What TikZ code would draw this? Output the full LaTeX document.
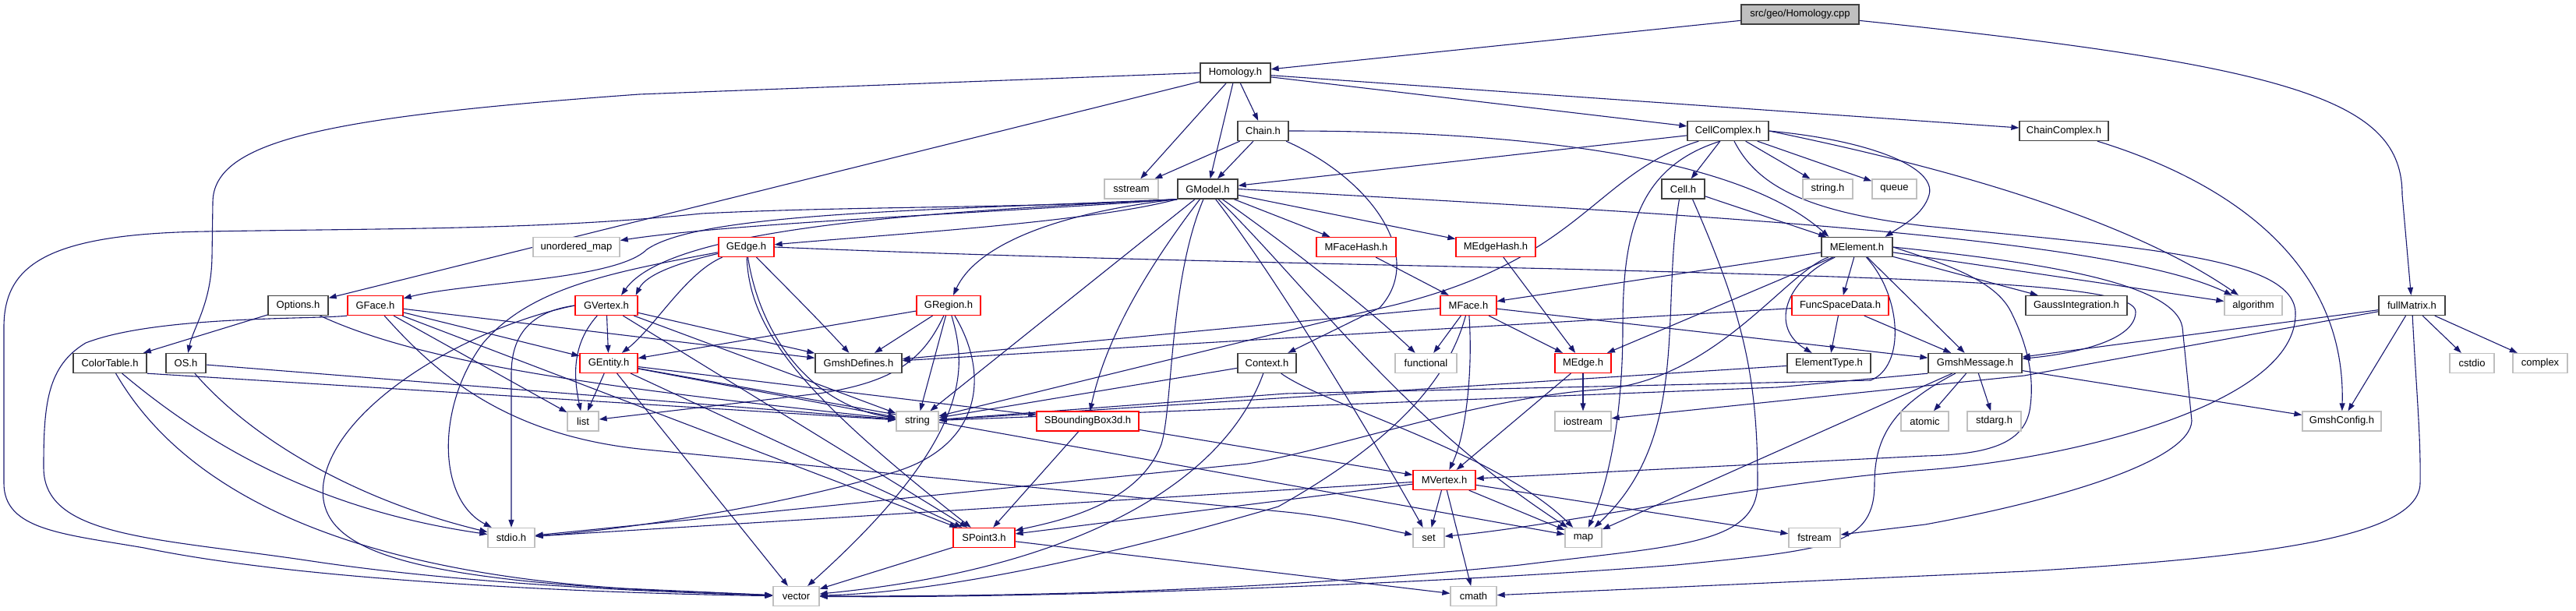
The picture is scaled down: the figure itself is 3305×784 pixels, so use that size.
\documentclass[tikz,border=0pt]{standalone}
\usepackage{fontspec}
\setmainfont{Liberation Sans}
\usetikzlibrary{arrows.meta,calc}
\definecolor{edgec}{HTML}{191970}
\definecolor{bordk}{HTML}{404040}
\definecolor{bordg}{HTML}{BFBFBF}
\definecolor{rootf}{HTML}{BFBFBF}
\pgfdeclarelayer{bg}
\pgfsetlayers{bg,main}
\begin{document}
\begin{tikzpicture}[x=1pt,y=-1pt,
 box/.style={draw, line width=1.3pt, inner sep=0pt, minimum height=25pt, fill=white, font=\fontsize{13pt}{15pt}\selectfont},
 bk/.style={box, draw=bordk},
 gy/.style={box, draw=bordg},
 rd/.style={box, draw=red},
 rootbox/.style={box, draw=bordk, fill=rootf},
 edg/.style={draw=edgec, line width=1.1pt, -{Triangle[length=10pt,width=7pt]}},
]
\useasboundingbox (0,0) rectangle (3305,784);
% ---------- nodes ----------
\node[rootbox,minimum width=151pt] (cpp) at (2309.5,18.5) {src/geo/Homology.cpp};
\node[bk,minimum width=90pt] (hh) at (1585,93.5) {Homology.h};
\node[bk,minimum width=65pt] (chain) at (1620.5,168) {Chain.h};
\node[bk,minimum width=104pt] (cellc) at (2217,168) {CellComplex.h};
\node[bk,minimum width=114pt] (chaincx) at (2648,168) {ChainComplex.h};
\node[gy,minimum width=69pt] (sstream) at (1451.5,242.5) {sstream};
\node[bk,minimum width=77pt] (gmodel) at (1549.5,242.5) {GModel.h};
\node[bk,minimum width=55pt] (cell) at (2159.5,242.5) {Cell.h};
\node[gy,minimum width=64pt] (stringh) at (2345,242.5) {string.h};
\node[gy,minimum width=57pt] (queue) at (2430.5,242.5) {queue};
\node[gy,minimum width=111pt] (umap) at (739.5,317) {unordered\_map};
\node[rd,minimum width=71pt] (gedge) at (957.5,317) {GEdge.h};
\node[rd,minimum width=102pt] (mfacehash) at (1740,317) {MFaceHash.h};
\node[rd,minimum width=102pt] (medgehash) at (1919,317) {MEdgeHash.h};
\node[bk,minimum width=91pt] (melement) at (2382.5,317) {MElement.h};
\node[bk,minimum width=77pt] (options) at (382.5,392) {Options.h};
\node[rd,minimum width=71pt] (gface) at (481.5,392) {GFace.h};
\node[rd,minimum width=80pt] (gvertex) at (778,392) {GVertex.h};
\node[rd,minimum width=82pt] (gregion) at (1217,392) {GRegion.h};
\node[rd,minimum width=72pt] (mface) at (1884,392) {MFace.h};
\node[rd,minimum width=124pt] (fsd) at (2361,392) {FuncSpaceData.h};
\node[bk,minimum width=130pt] (gauss) at (2664,392) {GaussIntegration.h};
\node[gy,minimum width=74pt] (algorithm) at (2891,392) {algorithm};
\node[bk,minimum width=85pt] (fullmatrix) at (3094.5,392) {fullMatrix.h};
\node[bk,minimum width=94pt] (colortable) at (141,466) {ColorTable.h};
\node[bk,minimum width=51pt] (os) at (238.5,466) {OS.h};
\node[rd,minimum width=74pt] (gentity) at (781,466) {GEntity.h};
\node[bk,minimum width=111pt] (gmshdef) at (1101.5,466) {GmshDefines.h};
\node[bk,minimum width=75pt] (context) at (1625.5,466) {Context.h};
\node[gy,minimum width=79pt] (functional) at (1829.5,466) {functional};
\node[rd,minimum width=72pt] (medge) at (2031,466) {MEdge.h};
\node[bk,minimum width=107pt] (eltype) at (2346.5,466) {ElementType.h};
\node[bk,minimum width=120pt] (gmshmsg) at (2534,466) {GmshMessage.h};
\node[gy,minimum width=57pt] (cstdio) at (3171.5,466) {cstdio};
\node[gy,minimum width=70pt] (complex) at (3259,466) {complex};
\node[gy,minimum width=40pt] (list) at (748,540.5) {list};
\node[gy,minimum width=54pt] (string) at (1177,540.5) {string};
\node[rd,minimum width=131pt] (sbb) at (1395.5,540.5) {SBoundingBox3d.h};
\node[gy,minimum width=72pt] (iostream) at (2031,540.5) {iostream};
\node[gy,minimum width=61pt] (atomic) at (2469.5,540.5) {atomic};
\node[gy,minimum width=69pt] (stdarg) at (2558.5,540.5) {stdarg.h};
\node[gy,minimum width=101pt] (gmshconfig) at (3004.5,540.5) {GmshConfig.h};
\node[rd,minimum width=80pt] (mvertex) at (1853,616) {MVertex.h};
\node[gy,minimum width=60pt] (stdio) at (656,690) {stdio.h};
\node[rd,minimum width=79pt] (spoint) at (1262.5,690) {SPoint3.h};
\node[gy,minimum width=40pt] (set) at (1833,690) {set};
\node[gy,minimum width=47pt] (map) at (2031.5,690) {map};
\node[gy,minimum width=66pt] (fstream) at (2328,690) {fstream};
\node[gy,minimum width=59pt] (vector) at (1021.5,765) {vector};
\node[gy,minimum width=59pt] (cmath) at (1890.5,765) {cmath};
% ---------- edges ----------
\begin{pgfonlayer}{bg}
% Homology.cpp
\draw[edg] (cpp) -- (hh);
\draw[edg] (cpp) .. controls (2950,85) and (3082,130) .. (3082,250) -- (fullmatrix);
% Homology.h
\draw[edg] (hh) -- (chain);
\draw[edg] (hh) -- (cellc);
\draw[edg] (hh) -- (chaincx);
\draw[edg] (hh) -- (gmodel);
\draw[edg] (hh) -- (sstream);
\draw[edg] (hh) -- (options);
\draw[edg] (hh.west) -- (820,121) .. controls (420,150) and (273,180) .. (273,260) -- (272,330) .. controls (271,390) and (248,420) .. (os);
% Chain.h
\draw[edg] (chain) -- (sstream);
\draw[edg] (chain) -- (gmodel);
\draw[edg] (chain.east) .. controls (1950,168) and (2230,200) .. ($(melement.north west)+(10,0)$);
\draw[edg] (chain) .. controls (1760,230) and (1830,330) .. (1770,395) -- (context);
% CellComplex.h
\draw[edg] (cellc) -- (gmodel);
\draw[edg] (cellc) -- (cell);
\draw[edg] (cellc) -- (stringh);
\draw[edg] (cellc) -- (queue);
\draw[edg] (cellc.east) .. controls (2400,180) and (2485,215) .. (2475,250) .. controls (2468,275) and (2440,290) .. ($(melement.north east)+(-10,0)$);
\draw[edg] (cellc.east) .. controls (2400,195) and (2700,260) .. (algorithm);
\draw[edg] ($(cellc.south west)+(15,0)$) .. controls (2040,225) and (2030,340) .. (1760,398) -- (string);
\draw[edg] ($(cellc.south)+(-10,0)$) .. controls (2100,215) and (2082,300) .. (2082,420) .. controls (2082,560) and (2055,640) .. (map);
\draw[edg] ($(cellc.south)+(8,0)$) .. controls (2255,240) and (2320,272) .. (2470,290) .. controls (2750,318) and (2940,330) .. (2945,400) .. controls (2950,520) and (2650,590) .. (2470,603) .. controls (2250,620) and (2000,675) .. (set);
% Cell.h
\draw[edg] (cell) -- (melement);
\draw[edg] ($(cell.south)+(-5,0)$) .. controls (2130,400) and (2170,560) .. (map);
\draw[edg] ($(cell.south)+(12,0)$) .. controls (2235,400) and (2255,480) .. (2255,620) .. controls (2255,700) and (2150,700) .. (1950,725) .. controls (1600,760) and (1300,765) .. (vector);
% ChainComplex.h
\draw[edg] (chaincx) .. controls (2850,230) and (3010,330) .. (gmshconfig);
% GModel.h
\draw[edg] (gmodel.south west) .. controls (1300,272) and (950,285) .. (umap);
\draw[edg] (gmodel.south west) .. controls (1400,285) and (1150,300) .. (gedge);
\draw[edg] (gmodel.south west) .. controls (1200,270) and (900,272) .. (830,320) .. controls (790,360) and (600,362) .. (gface);
\draw[edg] (gmodel.south west) .. controls (1200,272) and (860,290) .. ($(gvertex.north)+(19,0)$);
\draw[edg] (gmodel.south west) .. controls (1340,275) and (1250,320) .. (gregion);
\draw[edg] (gmodel.south west) .. controls (1300,268) and (1100,264) .. (900,274) .. controls (700,295) and (500,293) .. (265,297) .. controls (60,300) and (5,340) .. (5,420) -- (5,620) .. controls (5,680) and (80,685) .. (185,703) .. controls (400,748) and (800,762) .. (vector);
\draw[edg] (gmodel) -- (mfacehash);
\draw[edg] (gmodel) -- (medgehash);
\draw[edg] (gmodel) .. controls (1475,340) and (1420,430) .. (sbb);
\draw[edg] (gmodel) .. controls (1500,360) and (1505,520) .. (1490,570) .. controls (1460,650) and (1350,670) .. (spoint);
\draw[edg] (gmodel) -- (string);
\draw[edg] (gmodel) .. controls (1640,360) and (1760,560) .. (set);
\draw[edg] (gmodel) .. controls (1680,370) and (1800,540) .. (map);
\draw[edg] (gmodel) .. controls (1660,320) and (1760,400) .. (functional);
\draw[edg] (gmodel.east) .. controls (2100,272) and (2700,300) .. (algorithm);
% GEdge.h
\draw[edg] (gedge) .. controls (880,335) and (830,350) .. ($(gvertex.north east)+(-3,0)$);
\draw[edg] (gedge) .. controls (880,350) and (840,420) .. (gentity);
\draw[edg] (gedge) .. controls (1010,370) and (1050,410) .. (gmshdef);
\draw[edg] (gedge) .. controls (780,350) and (680,370) .. (620,440) .. controls (560,520) and (560,640) .. (stdio);
\draw[edg] (gedge) .. controls (962,420) and (1020,500) .. (spoint);
\draw[edg] (gedge) .. controls (975,430) and (1040,520) .. (string);
\draw[edg] (gedge.east) .. controls (1300,330) and (1600,336) .. (2000,345) .. controls (2500,358) and (2740,365) .. (2740,400) .. controls (2740,440) and (2650,455) .. (gmshmsg);
% GVertex.h
\draw[edg] (gvertex) -- (gentity);
\draw[edg] (gvertex) .. controls (735,440) and (735,480) .. (list);
\draw[edg] (gvertex) -- (gmshdef);
\draw[edg] (gvertex) -- (string);
\draw[edg] (gvertex) -- (spoint);
\draw[edg] (gvertex.west) .. controls (680,400) and (656,430) .. (656,480) -- (stdio);
\draw[edg] (gvertex.west) .. controls (600,420) and (430,520) .. (415,620) .. controls (405,700) and (500,740) .. (830,757) -- (vector);
% GFace.h
\draw[edg] (gface) -- (gentity);
\draw[edg] (gface) -- (list);
\draw[edg] (gface) -- (gmshdef);
\draw[edg] (gface) -- (spoint);
\draw[edg] (gface.south west) .. controls (400,410) and (200,405) .. (110,440) .. controls (60,470) and (56,520) .. (56,600) .. controls (56,690) and (200,690) .. (400,720) .. controls (600,750) and (850,760) .. (vector);
\draw[edg] (gface) .. controls (560,480) and (650,560) .. (830,577) -- (1650,657) .. controls (1720,664) and (1780,680) .. (set);
% GEntity.h
\draw[edg] (gentity) -- (list);
\draw[edg] (gentity) -- (string);
\draw[edg] (gentity) -- (sbb);
\draw[edg] (gentity) -- (spoint);
\draw[edg] (gentity) -- (vector);
\draw[edg] (gentity) -- (map);
% GRegion.h
\draw[edg] (gregion) -- (gentity);
\draw[edg] (gregion) -- (gmshdef);
\draw[edg] (gregion) -- (string);
\draw[edg] (gregion) .. controls (1240,470) and (1250,560) .. (vector);
\draw[edg] (gregion) .. controls (1270,480) and (1260,570) .. (1150,605) .. controls (1000,650) and (800,680) .. (stdio);
\draw[edg] (gregion) .. controls (1185,460) and (1150,490) .. (1050,505) -- (list);
% Options.h, ColorTable.h, OS.h
\draw[edg] (options) -- (colortable);
\draw[edg] (options) .. controls (550,470) and (800,500) .. (string);
\draw[edg] (colortable.south east) -- (string);
\draw[edg] (colortable) .. controls (300,600) and (450,660) .. (stdio);
\draw[edg] (colortable) .. controls (230,620) and (420,730) .. (800,755) -- (vector);
\draw[edg] (os) .. controls (320,560) and (450,640) .. (stdio);
\draw[edg] (os) -- (string);
% Context.h
\draw[edg] (context) -- (string);
\draw[edg] (context) .. controls (1570,620) and (1380,730) .. (vector);
\draw[edg] (context) .. controls (1700,520) and (1920,580) .. (map);
% SBoundingBox3d.h, SPoint3.h
\draw[edg] (sbb) -- (spoint);
\draw[edg] (sbb) -- (mvertex);
\draw[edg] (spoint) -- (vector);
\draw[edg] (spoint) -- (cmath);
% hashes
\draw[edg] (mfacehash) -- (mface);
\draw[edg] (medgehash) -- (medge);
% MElement.h
\draw[edg] (melement) -- (mface);
\draw[edg] (melement) -- (fsd);
\draw[edg] (melement) -- (gauss);
\draw[edg] (melement) -- (algorithm);
\draw[edg] (melement) -- (gmshmsg);
\draw[edg] (melement) .. controls (2290,360) and (2270,420) .. (eltype);
\draw[edg] (melement) -- (medge);
\draw[edg] (melement) .. controls (2440,380) and (2445,470) .. (2400,488) -- (1650,505) -- (string);
\draw[edg] (melement) .. controls (2290,350) and (2200,490) .. (2050,500) .. controls (1900,510) and (1700,580) .. (1600,595) -- (stdio);
\draw[edg] (melement.east) .. controls (2600,335) and (2790,360) .. (2800,420) -- (2812,540) .. controls (2810,590) and (2650,640) .. (2470,673) -- (fstream);
\draw[edg] (melement.east) .. controls (2500,340) and (2560,360) .. (2580,400) .. controls (2600,440) and (2610,480) .. (2605,520) .. controls (2600,570) and (2550,583) .. (2470,585) -- (mvertex);
% MVertex.h
\draw[edg] (mvertex) -- (set);
\draw[edg] (mvertex) -- (map);
\draw[edg] (mvertex) -- (cmath);
\draw[edg] (mvertex) -- (fstream);
\draw[edg] (mvertex) -- (spoint);
\draw[edg] (mvertex) -- (stdio);
% MEdge.h
\draw[edg] (medge) -- (mvertex);
\draw[edg] (medge) -- (iostream);
% MFace.h
\draw[edg] (mface) -- (functional);
\draw[edg] (mface) -- (medge);
\draw[edg] (mface) .. controls (1890,480) and (1880,560) .. (mvertex);
\draw[edg] (mface) -- (gmshmsg);
\draw[edg] (mface) -- (gmshdef);
\draw[edg] (mface) .. controls (1860,480) and (1800,560) .. (1640,650) .. controls (1400,720) and (1200,760) .. (vector);
% FuncSpaceData.h, ElementType.h
\draw[edg] (fsd) -- (eltype);
\draw[edg] (fsd) -- (gmshmsg);
\draw[edg] (fsd) -- (gmshdef);
\draw[edg] (eltype) -- (string);
% GmshMessage.h
\draw[edg] (gmshmsg) -- (atomic);
\draw[edg] (gmshmsg) -- (stdarg);
\draw[edg] (gmshmsg) -- (gmshconfig);
\draw[edg] (gmshmsg) -- (map);
\draw[edg] (gmshmsg.south west) -- (2280,497) -- (string);
\draw[edg] (gmshmsg) .. controls (2430,520) and (2405,560) .. (2405,620) .. controls (2405,700) and (2350,705) .. (2150,725) .. controls (1800,752) and (1300,768) .. (vector);
% fullMatrix.h
\draw[edg] (fullmatrix) -- (gmshmsg);
\draw[edg] (fullmatrix) -- (2597,482) -- (iostream);
\draw[edg] (fullmatrix) -- (cstdio);
\draw[edg] (fullmatrix) -- (complex);
\draw[edg] (fullmatrix) -- (gmshconfig);
\draw[edg] (fullmatrix) .. controls (3100,500) and (3106,560) .. (3105,620) .. controls (3104,690) and (2900,715) .. (2600,733) -- (cmath);
\end{pgfonlayer}
\end{tikzpicture}
\end{document}
